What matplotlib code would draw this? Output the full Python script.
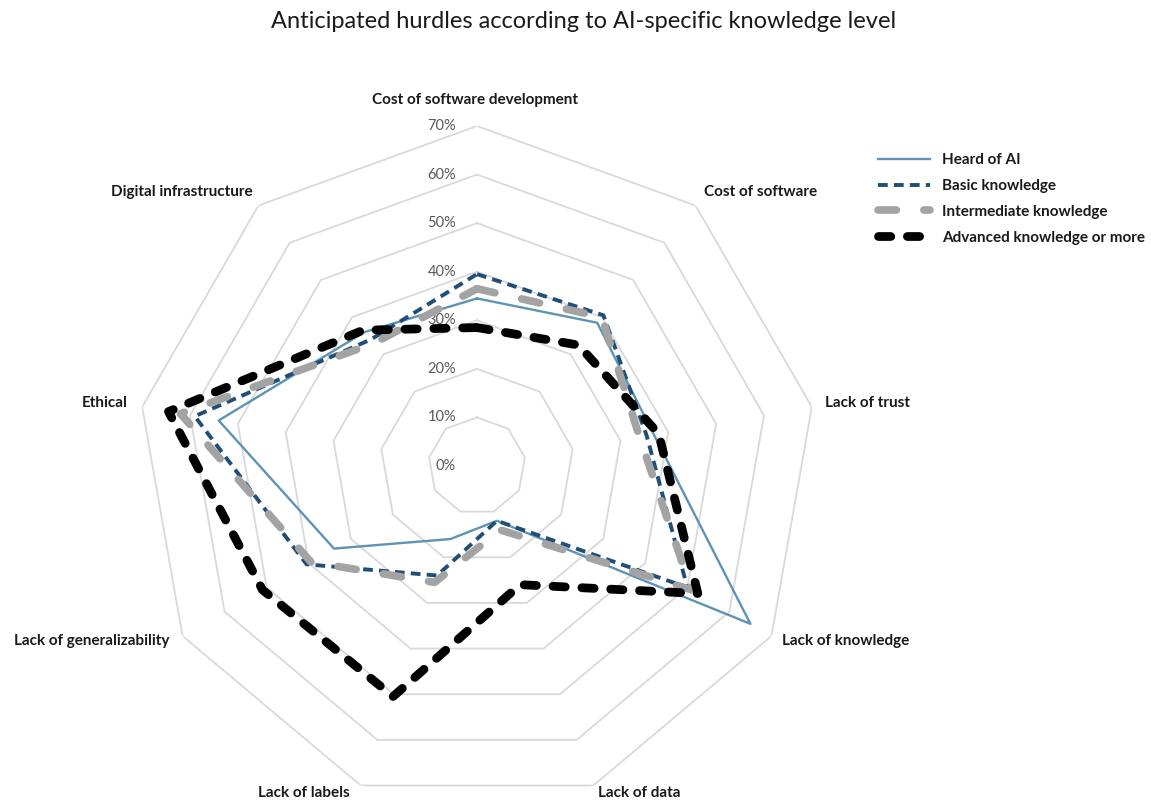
import numpy as np
import matplotlib
matplotlib.use("Agg")
import matplotlib.pyplot as plt

plt.rcParams['font.family'] = ['Lato', 'DejaVu Sans']

categories = ["Cost of software development", "Cost of software", "Lack of trust",
              "Lack of knowledge", "Lack of data", "Lack of labels",
              "Lack of generalizability", "Ethical", "Digital infrastructure"]
series_names = ["Heard of AI", "Basic knowledge", "Intermediate knowledge",
                "Advanced knowledge or more"]
heard = [34.5, 38.5, 37.0, 65.0, 12.0, 16.0, 34.0, 54.0, 36.0]
basic = [39.5, 40.5, 35.5, 50.0, 12.0, 24.0, 40.5, 59.0, 34.0]
intermediate = [36.5, 40.0, 34.0, 51.0, 14.0, 25.5, 39.5, 62.0, 33.0]
advanced = [28.5, 32.5, 38.0, 52.5, 26.0, 50.5, 51.0, 64.5, 36.5]
r_ticks = [0, 10, 20, 30, 40, 50, 60, 70]
r_tick_labels = ["0%", "10%", "20%", "30%", "40%", "50%", "60%", "70%"]

W, H = 1151, 802
fig = plt.figure(figsize=(W / 100, H / 100), dpi=100)
cx, cy, R = 477, 466, 340
ax = fig.add_axes([(cx - R) / W, 1 - (cy + R) / H, 2 * R / W, 2 * R / H],
                  projection='polar')
ax.set_theta_zero_location('N')
ax.set_theta_direction(-1)
ax.set_ylim(0, 70)
ax.set_xticks([])
ax.set_yticks([])
ax.grid(False)
ax.spines['polar'].set_visible(False)
ax.patch.set_alpha(0)

n = len(categories)
theta = np.arange(n) * 2 * np.pi / n
theta_c = np.append(theta, theta[0])

# polygon grid rings
for r in r_ticks[1:]:
    ax.plot(theta_c, [r] * (n + 1), color='#d9d9d9', lw=1.3, zorder=1)

# radial tick labels
for r, lab in zip(r_ticks, r_tick_labels):
    ax.annotate(lab, xy=(0, r), xytext=(-21, 0), textcoords='offset pixels',
                ha='right', va='center', fontsize=10.5, color='#595959', zorder=2)

def close(v):
    return list(v) + [v[0]]

styles = [
    dict(color='#5e93b5', lw=1.7, linestyle='-'),
    dict(color='#1f4e79', lw=2.8, linestyle=(0, (2.5, 1.6)), dash_capstyle='butt'),
    dict(color='#a3a3a3', lw=5.5, linestyle=(0, (2.4, 3.6)), dash_capstyle='round'),
    dict(color='#000000', lw=6.3, linestyle=(0, (1.4, 1.9)), dash_capstyle='round'),
]
handles = []
for vals, name, st in zip([heard, basic, intermediate, advanced], series_names, styles):
    ln, = ax.plot(theta_c, close(vals), label=name, zorder=3,
                  solid_joinstyle='round', dash_joinstyle='round', **st)
    handles.append(ln)

# category labels
offsets = [(-2, 26, 'center'), (8, 14, 'left'), (13, 4, 'left'), (11, -5, 'left'),
           (5, -8, 'left'), (-11, -8, 'right'), (-13, -5, 'right'),
           (-15, 4, 'right'), (-6, 14, 'right')]
for t, lab, (dx, dy, ha) in zip(theta, categories, offsets):
    ax.annotate(lab, xy=(t, 70), xytext=(dx, dy), textcoords='offset pixels',
                ha=ha, va='center', fontsize=11, fontweight='bold', color='#1a1a1a',
                annotation_clip=False)

fig.text(584 / W, 1 - 22 / H, "Anticipated hurdles according to AI-specific knowledge level",
         ha='center', va='center', fontsize=17, color='#1a1a1a')

fig.legend(handles=handles, loc='upper left', bbox_to_anchor=(878 / W, 1 - 153 / H),
           frameon=False, borderpad=0, borderaxespad=0, handlelength=3.4,
           handletextpad=0.8, labelspacing=0.78,
           prop=dict(size=11, weight='bold'), labelcolor='#1a1a1a')

fig.savefig('out.png', dpi=100)
